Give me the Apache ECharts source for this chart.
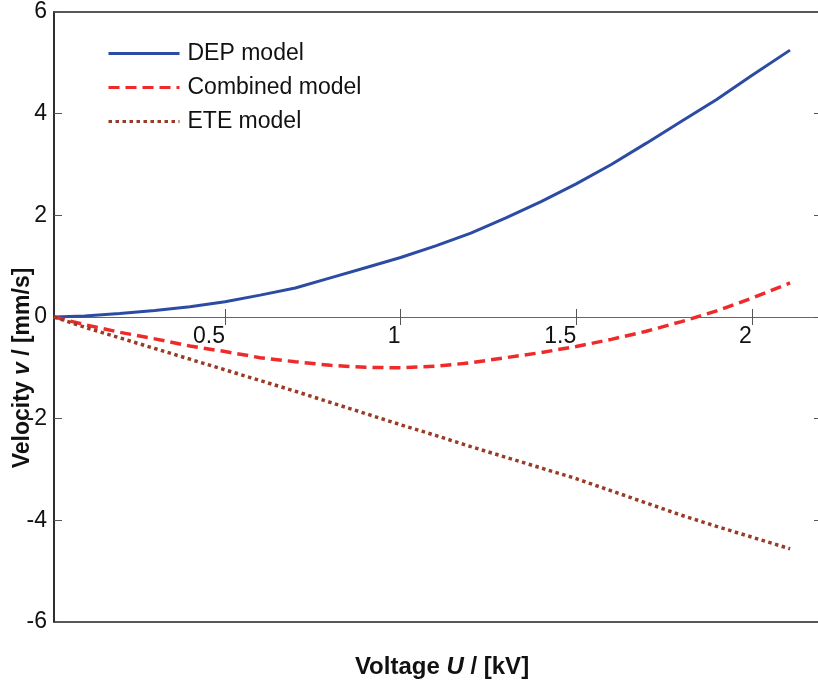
<!DOCTYPE html>
<html>
<head>
<meta charset="utf-8">
<script src="https://cdn.jsdelivr.net/npm/echarts@6/dist/echarts.min.js"></script>
<style>
  html, body { margin: 0; padding: 0; background: #fff; }
  #chart { width: 818px; height: 688px; }
</style>
</head>
<body>
<div id="chart"></div>
<script>
// Voltage U in kV
const voltage = [0.013, 0.1, 0.2, 0.3, 0.4, 0.5, 0.6, 0.7, 0.8, 0.9, 1.0, 1.1, 1.2, 1.3, 1.4, 1.5, 1.6, 1.7, 1.8, 1.9, 2.0, 2.109];
// Velocity v in mm/s for each model
const depModel = [0, 0.02, 0.07, 0.13, 0.2, 0.3, 0.43, 0.57, 0.77, 0.97, 1.17, 1.4, 1.65, 1.95, 2.27, 2.62, 3.0, 3.42, 3.85, 4.28, 4.75, 5.25];
const combinedModel = [0, -0.15, -0.3, -0.43, -0.57, -0.68, -0.8, -0.88, -0.95, -0.99, -1.0, -0.97, -0.9, -0.8, -0.7, -0.58, -0.44, -0.28, -0.09, 0.12, 0.37, 0.67];
const eteModel = [0, -0.2, -0.41, -0.62, -0.83, -1.04, -1.25, -1.46, -1.68, -1.9, -2.12, -2.33, -2.55, -2.76, -2.97, -3.18, -3.42, -3.66, -3.9, -4.12, -4.33, -4.56];

const seriesNames = ['DEP model', 'Combined model', 'ETE model'];
const xTicks = [0.5, 1, 1.5, 2];
const yTicks = [-6, -4, -2, 0, 2, 4, 6];

const FONT = '"Liberation Sans", Arial, Helvetica, sans-serif';

// plot box geometry
const GRID_TOP = 12, GRID_BOTTOM = 66, CHART_H = 688;
const plotH = CHART_H - GRID_TOP - GRID_BOTTOM;
// the voltage axis crosses the velocity axis at v = 0 (the middle of -6..6)
const zeroOffset = -plotH / 2;

function pairs(ys) {
  return voltage.map((x, i) => [x, ys[i]]);
}

function titleRich(size) {
  return {
    a: { fontSize: size, fontWeight: 'bold', fill: '#111', fontFamily: FONT },
    b: { fontSize: size, fontWeight: 'bold', fontStyle: 'italic', fill: '#111', fontFamily: FONT }
  };
}

const chart = echarts.init(document.getElementById('chart'));

chart.setOption({
  animation: false,
  backgroundColor: '#fff',
  textStyle: { fontFamily: FONT },
  grid: {
    left: 54, top: GRID_TOP, right: -4, bottom: GRID_BOTTOM,
    outerBoundsMode: 'none', containLabel: false,
    show: true, borderColor: '#222', borderWidth: 1.5, backgroundColor: 'transparent'
  },
  legend: {
    orient: 'vertical',
    left: 102, top: 37,
    itemWidth: 71, itemHeight: 22, itemGap: 11,
    itemStyle: { opacity: 0 },
    lineStyle: { width: 3 },
    textStyle: { fontSize: 23, color: '#111', fontFamily: FONT, padding: [0, 0, 0, 3] },
    data: seriesNames
  },
  xAxis: [
    {
      type: 'value', min: 0.013, max: 2.2, position: 'bottom',
      offset: zeroOffset,
      axisLine: { onZero: false, lineStyle: { color: '#666', width: 1.2 } },
      axisTick: { inside: true, length: 8, customValues: xTicks, lineStyle: { color: '#555' } },
      axisLabel: { customValues: xTicks, fontSize: 23, color: '#111', margin: 8, align: 'right', fontFamily: FONT },
      splitLine: { show: false }
    },
    {
      type: 'value', min: 0.013, max: 2.2, position: 'top',
      axisLine: { show: false },
      axisTick: { inside: true, length: 8, customValues: xTicks, lineStyle: { color: '#555' } },
      axisLabel: { show: false },
      splitLine: { show: false }
    }
  ],
  yAxis: [
    {
      type: 'value', min: -6, max: 6, interval: 2,
      axisLine: { onZero: false, lineStyle: { color: '#222', width: 1.5 } },
      axisTick: { inside: true, length: 8, lineStyle: { color: '#555' } },
      axisLabel: { fontSize: 23, color: '#111', margin: 7, fontFamily: FONT },
      splitLine: { show: false }
    },
    {
      type: 'value', min: -6, max: 6, interval: 2, position: 'right',
      axisLine: { show: false },
      axisTick: { inside: true, length: 8, lineStyle: { color: '#555' } },
      axisLabel: { show: false },
      splitLine: { show: false }
    }
  ],
  graphic: [
    {
      // velocity axis title
      type: 'text',
      x: 23, y: 368,
      rotation: Math.PI / 2,
      z: 10,
      style: {
        text: '{a|Velocity }{b|v}{a| / [mm/s]}',
        align: 'center', verticalAlign: 'middle',
        rich: titleRich(23)
      }
    },
    {
      // voltage axis title
      type: 'text',
      x: 442, y: 667,
      style: {
        text: '{a|Voltage }{b|U}{a| / [kV]}',
        align: 'center', verticalAlign: 'middle',
        rich: titleRich(24)
      }
    }
  ],
  series: [
    {
      name: seriesNames[0], type: 'line', data: pairs(depModel),
      symbol: 'none', smooth: false,
      lineStyle: { color: '#2c4ca3', width: 3 }, itemStyle: { color: '#2c4ca3' }
    },
    {
      name: seriesNames[1], type: 'line', data: pairs(combinedModel),
      symbol: 'none', smooth: false,
      lineStyle: { color: '#ee2a2a', width: 3.5, type: [11, 6] }, itemStyle: { color: '#ee2a2a' }
    },
    {
      name: seriesNames[2], type: 'line', data: pairs(eteModel),
      symbol: 'none', smooth: false,
      lineStyle: { color: '#9a3b25', width: 3.5, type: [3.5, 3.5] }, itemStyle: { color: '#9a3b25' }
    }
  ]
});
</script>
</body>
</html>
